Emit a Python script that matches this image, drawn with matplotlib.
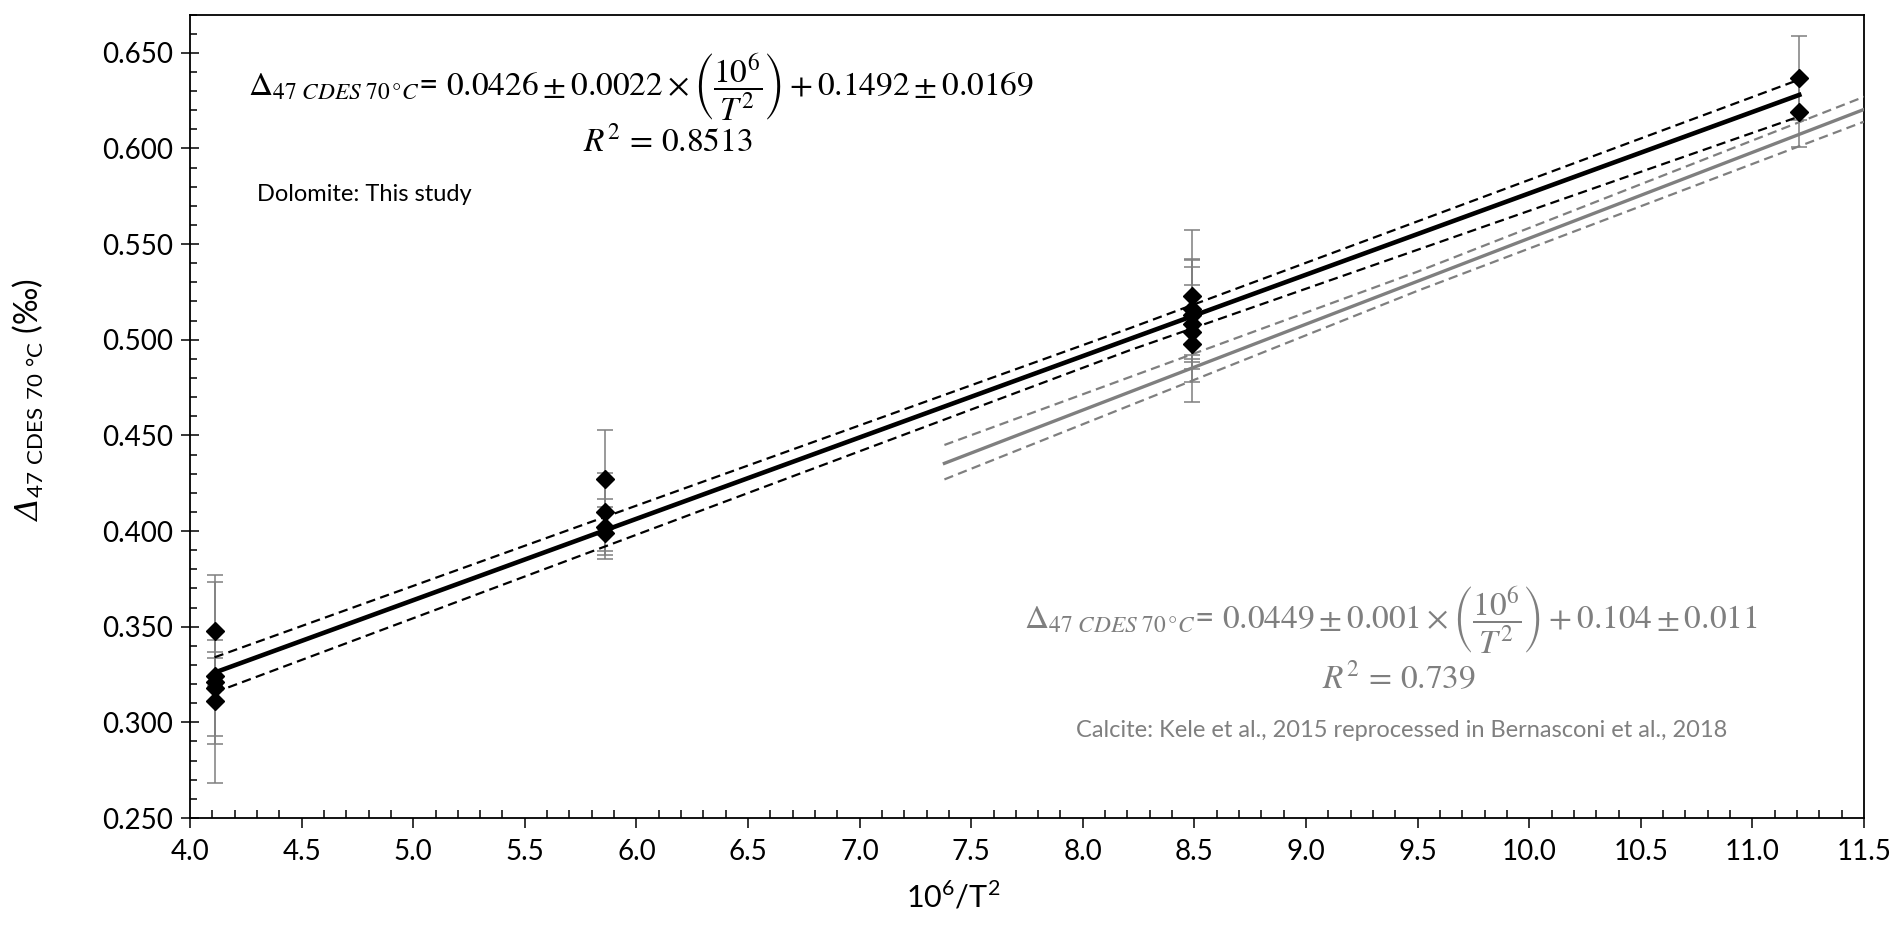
import numpy as np
import matplotlib
matplotlib.use("Agg")
import matplotlib.pyplot as plt
from matplotlib.ticker import MultipleLocator, FormatStrFormatter

plt.rcParams['font.family'] = ['Lato', 'DejaVu Sans']
# italic Greek for the y label: the 'it' slot forces capitals upright, so use 'sf'
plt.rcParams['mathtext.sf'] = 'DejaVu Serif:italic'

# dolomite data (this study), one x per temperature
x_dol = [4.11, 4.11, 4.11, 4.11, 4.11,
         5.86, 5.86, 5.86, 5.86,
         8.49, 8.49, 8.49, 8.49, 8.49, 8.49,
         11.21, 11.21]
y_dol = [0.348, 0.324, 0.321, 0.318, 0.311,
         0.427, 0.410, 0.402, 0.399,
         0.523, 0.516, 0.513, 0.508, 0.504, 0.498,
         0.637, 0.619]
err_dol = [0.029, 0.013, 0.0525, 0.025, 0.0224,
           0.026, 0.0205, 0.0145, 0.0135,
           0.0345, 0.026, 0.0285, 0.030, 0.012, 0.0305,
           0.022, 0.018]

# dolomite regression and its confidence band
fit_x = [4.11, 11.21]
fit_y = [0.326, 0.628]
band_x = [4.11, 8.21, 11.21]
band_hi = [0.334, 0.506, 0.636]
band_lo = [0.3156, 0.4945, 0.6167]

# calcite regression (Kele et al. 2015 / Bernasconi et al. 2018)
cal_x = [7.38, 11.5]
cal_y = [0.4354, 0.6204]
cal_band_x = [7.38, 9.5, 11.5]
cal_hi = [0.445, 0.5356, 0.627]
cal_lo = [0.427, 0.5256, 0.614]

fig = plt.figure(figsize=(18.98, 9.32), dpi=100)
ax = fig.add_axes([0.1001, 0.1223, 0.882, 0.8621])

gray = '#7f7f7f'
ax.errorbar(x_dol, y_dol, yerr=err_dol, fmt='none', ecolor=gray, elinewidth=1.1,
            capsize=6, capthick=1.1, zorder=2)
ax.plot(fit_x, fit_y, color='black', lw=3.3, zorder=3)
ax.plot(band_x, band_hi, color='black', lw=1.6, dashes=(4.2, 2.4), zorder=3)
ax.plot(band_x, band_lo, color='black', lw=1.6, dashes=(4.2, 2.4), zorder=3)
ax.plot(cal_x, cal_y, color=gray, lw=2.4, zorder=3)
ax.plot(cal_band_x, cal_hi, color=gray, lw=1.6, dashes=(4.2, 2.4), zorder=3)
ax.plot(cal_band_x, cal_lo, color=gray, lw=1.6, dashes=(4.2, 2.4), zorder=3)
ax.plot(x_dol, y_dol, 'D', color='black', ms=9, zorder=4)

ax.set_xlim(4.0, 11.5)
ax.set_ylim(0.25, 0.67)
ax.xaxis.set_major_locator(MultipleLocator(0.5))
ax.xaxis.set_minor_locator(MultipleLocator(0.1))
ax.yaxis.set_major_locator(MultipleLocator(0.05))
ax.yaxis.set_minor_locator(MultipleLocator(0.01))
ax.xaxis.set_major_formatter(FormatStrFormatter('%.1f'))
ax.yaxis.set_major_formatter(FormatStrFormatter('%.3f'))
ax.tick_params(axis='x', which='major', direction='out', length=7, width=1.1, labelsize=20, pad=8)
ax.tick_params(axis='x', which='minor', direction='in', length=6, width=1.1)
ax.tick_params(axis='y', which='major', direction='inout', length=13, width=1.1, labelsize=20, pad=6)
ax.tick_params(axis='y', which='minor', direction='in', length=5, width=1.1)
for s in ax.spines.values():
    s.set_linewidth(1.3)

ax.set_xlabel(r'10$^{\mathregular{6}}$/T$^{\mathregular{2}}$', fontsize=22)
ax.xaxis.set_label_coords(0.456, -0.078)
ax.set_ylabel(r'$\mathsf{Δ}_{\mathregular{47\ CDES\ 70\ °C}}$ (‰)', fontsize=23,
              math_fontfamily='custom')
ax.yaxis.set_label_coords(-0.086, 0.52)

eq1 = r'$\Delta_{47\ CDES\ 70\,°C}$= $0.0426 \pm 0.0022 \times \left(\dfrac{10^6}{T^2}\right) + 0.1492 \pm 0.0169$'
ax.text(4.26, 0.6317, eq1, fontsize=24, math_fontfamily='stix', ha='left', va='center')
ax.text(6.14, 0.6039, r'$R^2\,=\,0.8513$', fontsize=24, math_fontfamily='stix', ha='center', va='center')
ax.text(4.30, 0.576, 'Dolomite: This study', fontsize=17, ha='left', va='center')

eq2 = r'$\Delta_{47\ CDES\ 70\,°C}$= $0.0449 \pm 0.001 \times \left(\dfrac{10^6}{T^2}\right) + 0.104 \pm 0.011$'
ax.text(7.737, 0.3535, eq2, fontsize=24, math_fontfamily='stix', ha='left', va='center', color=gray)
ax.text(9.417, 0.3233, r'$R^2\,=\,0.739$', fontsize=24, math_fontfamily='stix', ha='center', va='center', color=gray)
ax.text(9.43, 0.296, 'Calcite: Kele et al., 2015 reprocessed in Bernasconi et al., 2018',
        fontsize=17, ha='center', va='center', color=gray)

fig.savefig('out.png', dpi=100)
